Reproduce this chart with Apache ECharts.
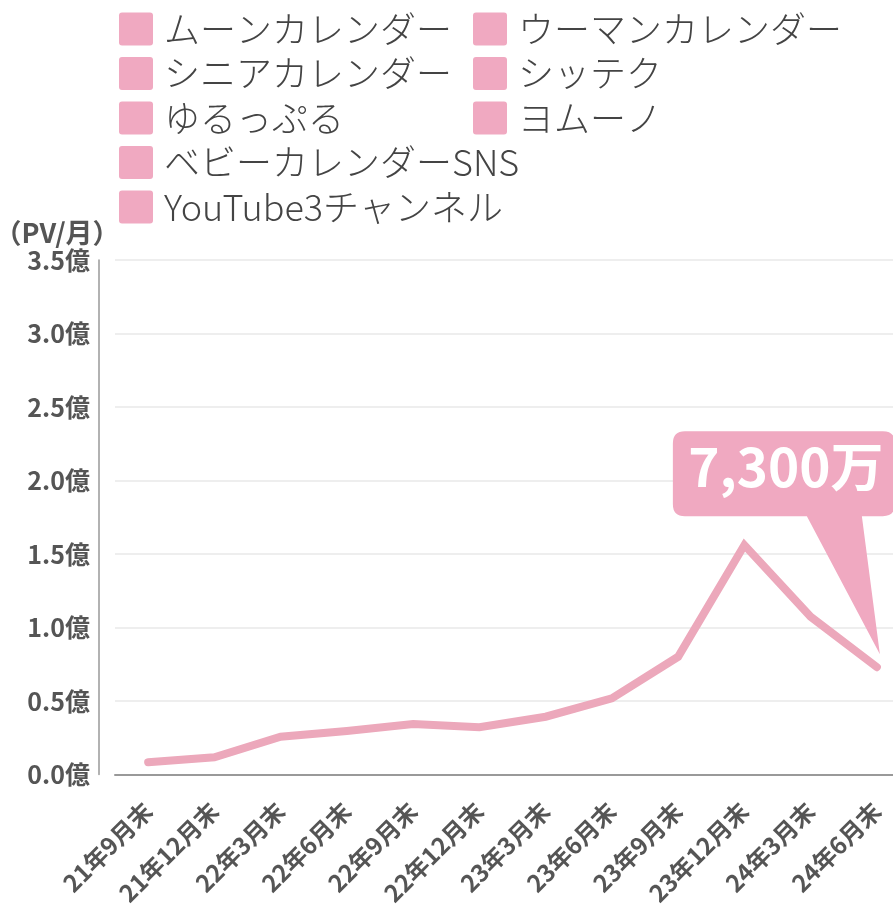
<!DOCTYPE html>
<html>
<head>
<meta charset="utf-8">
<script src="https://cdn.jsdelivr.net/npm/echarts@6/dist/echarts.min.js"></script>
<style>
html,body{margin:0;padding:0;background:#fff;}
#chart{width:893px;height:906px;}
</style>
</head>
<body>
<div id="chart"></div>
<script>
// ---- data ----
const categories = ['21年9月末','21年12月末','22年3月末','22年6月末','22年9月末','22年12月末','23年3月末','23年6月末','23年9月末','23年12月末','24年3月末','24年6月末'];
const pvValues = [0.083, 0.117, 0.257, 0.296, 0.344, 0.321, 0.393, 0.518, 0.801, 1.561, 1.073, 0.73]; // 億PV/月
const legendCol1 = ['ムーンカレンダー','シニアカレンダー','ゆるっぷる','ベビーカレンダーSNS','YouTube3チャンネル'];
const legendCol2 = ['ウーマンカレンダー','シッテク','ヨムーノ'];
const yMin = 0, yMax = 3.5, yInterval = 0.5;
const yAxisName = '（PV/月）';
const totalName = '合計';

// ---- styles ----
const FONT = '"Noto Sans CJK JP", "Noto Sans", sans-serif';
const PINK = '#f0a9c1';
const LINE_PINK = '#eca8bb';

const lastIdx = pvValues.length - 1;
const calloutText = Math.round(pvValues[lastIdx] * 10000).toLocaleString('en-US') + '万';

const legendBase = {
  orient: 'vertical',
  top: 11,
  padding: 0,
  itemWidth: 34,
  itemHeight: 33,
  itemGap: 8.5,
  icon: 'path://M3,0 L31,0 Q34,0 34,3 L34,30 Q34,33 31,33 L3,33 Q0,33 0,30 L0,3 Q0,0 3,0 Z',
  selectedMode: false,
  textStyle: {
    fontFamily: FONT,
    fontSize: 36,
    fontWeight: 300,
    lineHeight: 33,
    color: '#444',
    padding: [0, 0, 0, 6]
  }
};

const allNames = legendCol1.concat(legendCol2);
const series = allNames.map(n => ({
  name: n,
  type: 'line',
  data: [],
  color: PINK,
  itemStyle: { color: PINK },
  showSymbol: false
}));

series.push({
  name: totalName,
  type: 'line',
  data: pvValues,
  color: LINE_PINK,
  symbol: 'none',
  lineStyle: { width: 8, color: LINE_PINK, cap: 'round', join: 'miter' },
  z: 3,
  markPoint: {
    silent: true,
    symbol: 'path://M12,0 L210,0 Q222,0 222,12 L222,73 Q222,85 210,85 L189,85 L207,223 L134,85 L12,85 Q0,85 0,73 L0,12 Q0,0 12,0 Z',
    symbolSize: [222, 223],
    symbolOffset: [-93, -124.5],
    symbolKeepAspect: false,
    itemStyle: { color: PINK },
    label: {
      show: true,
      position: 'inside',
      offset: [2, -75.5],
      formatter: calloutText,
      color: '#fff',
      fontFamily: FONT,
      fontSize: 53,
      fontWeight: 'bold'
    },
    data: [{ coord: [categories[lastIdx], pvValues[lastIdx]] }]
  }
});

const option = {
  animation: false,
  backgroundColor: '#fff',
  textStyle: { fontFamily: FONT },
  legend: [
    Object.assign({}, legendBase, { left: 119, data: legendCol1 }),
    Object.assign({}, legendBase, { left: 473, data: legendCol2 })
  ],
  grid: {
    left: 115,
    top: 260,
    width: 795,
    height: 514.5,
    outerBoundsMode: 'none'
  },
  xAxis: {
    type: 'category',
    data: categories,
    boundaryGap: true,
    axisLine: { show: true, lineStyle: { color: '#999', width: 2 } },
    axisTick: { show: false },
    axisLabel: {
      interval: 0,
      rotate: 45,
      margin: 32,
      color: '#555',
      fontFamily: FONT,
      fontSize: 24,
      fontWeight: 'bold'
    },
    splitLine: { show: false }
  },
  yAxis: {
    type: 'value',
    min: yMin,
    max: yMax,
    interval: yInterval,
    offset: 16,
    name: yAxisName,
    nameLocation: 'end',
    nameGap: 27,
    nameTextStyle: {
      color: '#555',
      fontFamily: FONT,
      fontSize: 27,
      fontWeight: 'bold',
      align: 'center',
      verticalAlign: 'middle',
      padding: [0, 84, 0, 0]
    },
    axisLine: { show: true, lineStyle: { color: '#999', width: 1.5 } },
    axisTick: { show: false },
    axisLabel: {
      margin: 9,
      color: '#555',
      fontFamily: FONT,
      fontSize: 25,
      fontWeight: 'bold',
      formatter: v => v.toFixed(1) + '億'
    },
    splitLine: { show: true, lineStyle: { color: '#e8e8e8', width: 1.5 } }
  },
  series: series
};

const chart = echarts.init(document.getElementById('chart'), null, { renderer: 'canvas' });
chart.setOption(option);
</script>
</body>
</html>
